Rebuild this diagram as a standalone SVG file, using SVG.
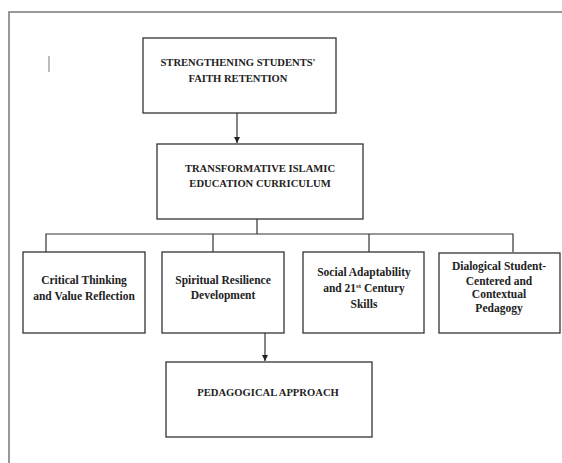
<svg xmlns="http://www.w3.org/2000/svg" width="562" height="463" viewBox="0 0 562 463">
<style>
.box{fill:#fff;stroke:#333;stroke-width:1.3}
.cap{font-family:'Liberation Serif','DejaVu Serif',serif;font-weight:bold;font-size:10.6px;fill:#222;text-anchor:middle}
.lc{font-family:'Liberation Serif','DejaVu Serif',serif;font-weight:bold;font-size:11.5px;fill:#222;text-anchor:middle}
.ln{fill:none;stroke:#333;stroke-width:1.2}
</style>
<defs>
<marker id="ah" viewBox="0 0 6 6" refX="6" refY="3" markerWidth="5" markerHeight="5" orient="auto">
<path d="M0,0L6,3L0,6z" fill="#222"/>
</marker>
</defs>
<rect width="562" height="463" fill="#fff"/>
<g id="frame">
<path d="M9,463V12H562" fill="none" stroke="#777" stroke-width="1.5"/>
<line x1="49" y1="56" x2="49" y2="72" stroke="#999" stroke-width="1.3"/>
</g>
<g id="connectors">
<line class="ln" x1="237" y1="113" x2="237" y2="143" marker-end="url(#ah)"/>
<path class="ln" d="M257,219V234M46,252V234H513V252M213,234V252M369,234V252"/>
<line class="ln" x1="265" y1="333" x2="265" y2="361" marker-end="url(#ah)"/>
</g>
<g id="n1">
<rect class="box" x="143" y="38" width="193" height="75"/>
<text class="cap" x="238" y="66">STRENGTHENING STUDENTS'</text>
<text class="cap" x="238" y="82">FAITH RETENTION</text>
</g>
<g id="n2">
<rect class="box" x="157" y="144" width="206" height="75"/>
<text class="cap" x="260" y="172">TRANSFORMATIVE ISLAMIC</text>
<text class="cap" x="260" y="187">EDUCATION CURRICULUM</text>
</g>
<g id="n3">
<rect class="box" x="23" y="252" width="122" height="81"/>
<text class="lc" x="84" y="284">Critical Thinking</text>
<text class="lc" x="84" y="300">and Value Reflection</text>
</g>
<g id="n4">
<rect class="box" x="162" y="252" width="122" height="81"/>
<text class="lc" x="223" y="284">Spiritual Resilience</text>
<text class="lc" x="223" y="299">Development</text>
</g>
<g id="n5">
<rect class="box" x="303" y="252" width="121" height="81"/>
<text class="lc" x="364" y="276">Social Adaptability</text>
<text class="lc" x="364" y="292">and 21<tspan font-size="7" dy="-4">st</tspan><tspan dy="4"> Century</tspan></text>
<text class="lc" x="364" y="308">Skills</text>
</g>
<g id="n6">
<rect class="box" x="439" y="253" width="121" height="80"/>
<text class="lc" x="499" y="270">Dialogical Student-</text>
<text class="lc" x="499" y="285">Centered and</text>
<text class="lc" x="499" y="298">Contextual</text>
<text class="lc" x="499" y="312">Pedagogy</text>
</g>
<g id="n7">
<rect class="box" x="166" y="362" width="206" height="75"/>
<text class="cap" x="268" y="396">PEDAGOGICAL APPROACH</text>
</g>
</svg>
